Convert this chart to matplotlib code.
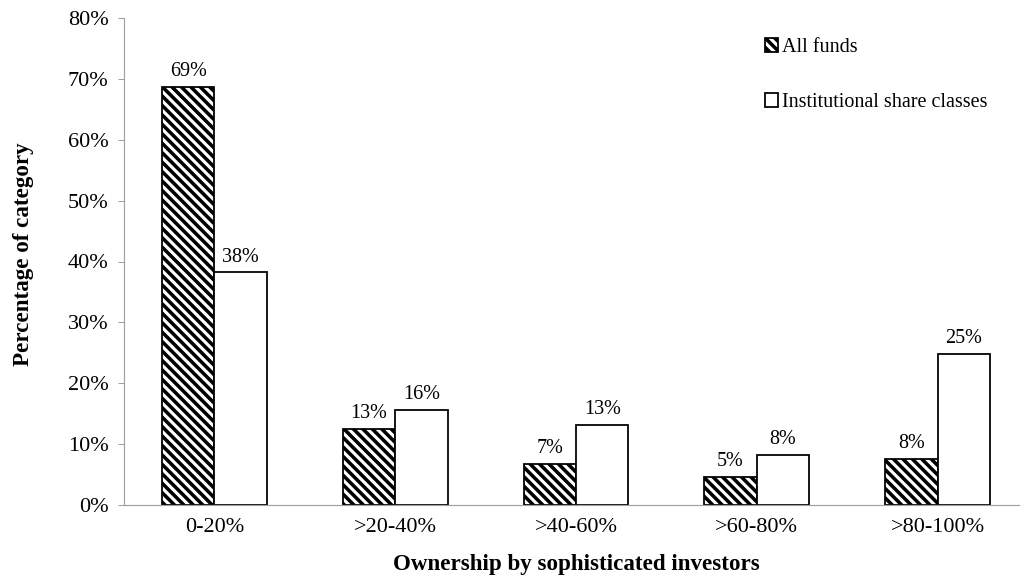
import numpy as np
import matplotlib
matplotlib.use("Agg")
import matplotlib.pyplot as plt
from matplotlib.ticker import PercentFormatter

# --- dados ---
categorias = ['0-20%', '>20-40%', '>40-60%', '>60-80%', '>80-100%']
todos_fundos = [68.6, 12.5, 6.8, 4.6, 7.6]
institucionais = [38.2, 15.6, 13.2, 8.2, 24.8]
rotulos_todos = ['69%', '13%', '7%', '5%', '8%']
rotulos_inst = ['38%', '16%', '13%', '8%', '25%']

plt.rcParams['font.family'] = 'Liberation Serif'
plt.rcParams['hatch.linewidth'] = 3.0
plt.rcParams['hatch.color'] = 'black'

DPI = 85
fig = plt.figure(figsize=(1020 / DPI, 577 / DPI), dpi=DPI)
ax = fig.add_axes([124 / 1020, 72 / 577, 904 / 1020, 487 / 577])

x = np.arange(len(categorias))
w = 0.29
fs = 17        # rótulos e legenda
fs_tick = 18.8
fs_lab = 19.5

ax.bar(x - w / 2, todos_fundos, w, color='white', edgecolor='black',
       hatch='\\\\\\', linewidth=1.5, label='All funds')
ax.bar(x + w / 2, institucionais, w, color='white', edgecolor='black',
       linewidth=1.5, label='Institutional share classes')

# rótulos de dados
for xi, v, t in zip(x - w / 2, todos_fundos, rotulos_todos):
    ax.annotate(t, (xi, v), xytext=(0, 5), textcoords='offset points',
                ha='center', va='bottom', fontsize=fs)
for xi, v, t in zip(x + w / 2, institucionais, rotulos_inst):
    ax.annotate(t, (xi, v), xytext=(0, 5), textcoords='offset points',
                ha='center', va='bottom', fontsize=fs)

ax.set_xlim(-0.5, len(categorias) - 0.5)
ax.set_ylim(0, 80)
ax.set_yticks(np.arange(0, 81, 10))
ax.yaxis.set_major_formatter(PercentFormatter(decimals=0))
ax.set_xticks(x)
ax.set_xticklabels(categorias)
ax.tick_params(axis='x', length=0, labelsize=fs_tick, pad=11)
ax.tick_params(axis='y', length=5, color='#999999', labelsize=fs_tick, pad=8)

for s in ['top', 'right']:
    ax.spines[s].set_visible(False)
for s in ['left', 'bottom']:
    ax.spines[s].set_color('#a0a0a0')
    ax.spines[s].set_linewidth(1.0)

ax.set_xlabel('Ownership by sophisticated investors', fontsize=fs_lab, fontweight='bold')
ax.xaxis.set_label_coords(0.5, -0.100)
ax.set_ylabel('Percentage of category', fontsize=fs_lab, fontweight='bold')
ax.yaxis.set_label_coords(-0.100, 0.515)

ax.legend(loc='upper left', bbox_to_anchor=(765 / 1020, 1 - 38 / 577),
          bbox_transform=fig.transFigure, frameon=False, fontsize=fs,
          handlelength=0.65, handleheight=0.65, handletextpad=0.2,
          labelspacing=1.8, borderpad=0, borderaxespad=0)

fig.savefig('out.png', dpi=DPI)
